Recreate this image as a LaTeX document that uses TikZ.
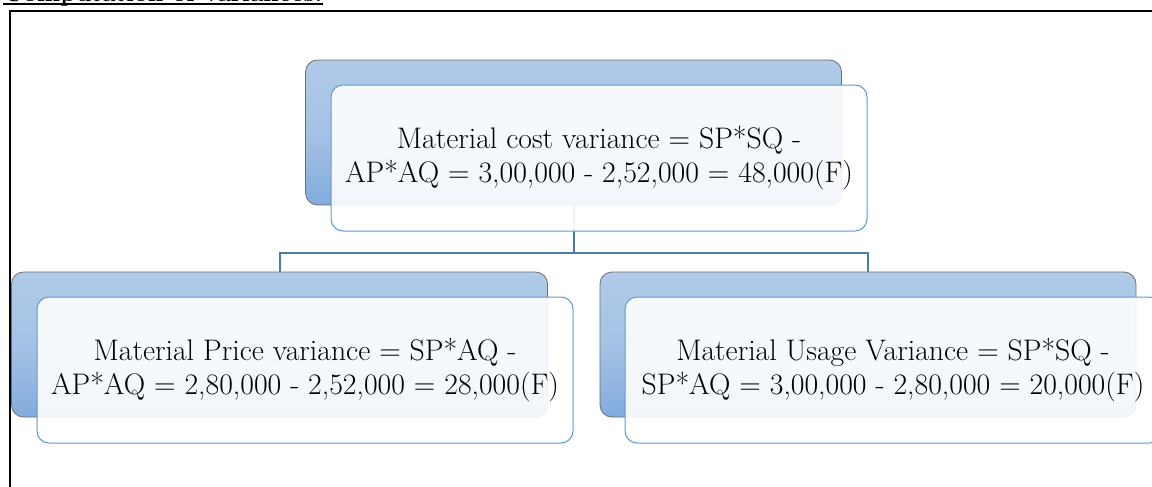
\documentclass[tikz,border=0pt]{standalone}
\usepackage{fontspec}
\definecolor{backtop}{HTML}{B0CAE8}
\definecolor{backbot}{HTML}{82ABDD}
\definecolor{backedge}{HTML}{6E6E6E}
\definecolor{frontedge}{HTML}{5B9BD5}
\definecolor{linkblue}{HTML}{4A7AB0}
\begin{document}
\begin{tikzpicture}[x=0.75pt,y=-0.75pt,
  backbox/.style={rectangle, rounded corners=9pt, minimum width=402pt,
    minimum height=108.75pt, inner sep=0pt, draw=backedge, line width=0.6pt,
    top color=backtop, bottom color=backbot, middle color=backtop!75!backbot},
  frontbox/.style={rectangle, rounded corners=9pt, minimum width=402pt,
    minimum height=109.5pt, inner sep=0pt, draw=frontedge, line width=0.75pt,
    fill=white, fill opacity=0.9, text opacity=1, align=center,
    font=\fontsize{22.3}{25.5}\selectfont},
  link/.style={draw=linkblue, line width=1.5pt},
  frameline/.style={draw=black, line width=1.2pt}]
  \clip (0,0) rectangle (1152,486);

  % heading above the framed area, underlined
  \node[anchor=base west, inner sep=0pt, font=\fontsize{18.5}{22}\selectfont\bfseries]
    (heading) at (3,1.5) {Computation of variances:};
  \draw[line width=1.3pt] ([yshift=-1.8pt]heading.base west) -- ([yshift=-1.8pt]heading.base east);

  % frame around the chart
  \draw[frameline] (10,500) -- (10,11) -- (1170,11);

  % shaded back panels
  \node[backbox] (topback)   at (573.5,132.5) {};
  \node[backbox] (leftback)  at (279.5,344.5) {};
  \node[backbox] (rightback) at (868,344.5) {};

  % tree connectors
  \coordinate (bus) at (573.5,253);
  \draw[link] (topback.south) -- (bus) -| (leftback.north);
  \draw[link] (bus) -| (rightback.north);

  % text panels in front
  \node[frontbox] (topfront) at (599,158)
    {Material cost variance = SP*SQ -\\AP*AQ = 3,00,000 - 2,52,000 = 48,000(F)};
  \node[frontbox] (leftfront) at (305,370)
    {Material Price variance = SP*AQ -\\AP*AQ = 2,80,000 - 2,52,000 = 28,000(F)};
  \node[frontbox] (rightfront) at (893,370)
    {Material Usage Variance = SP*SQ -\\SP*AQ = 3,00,000 - 2,80,000 = 20,000(F)};
\end{tikzpicture}
\end{document}
